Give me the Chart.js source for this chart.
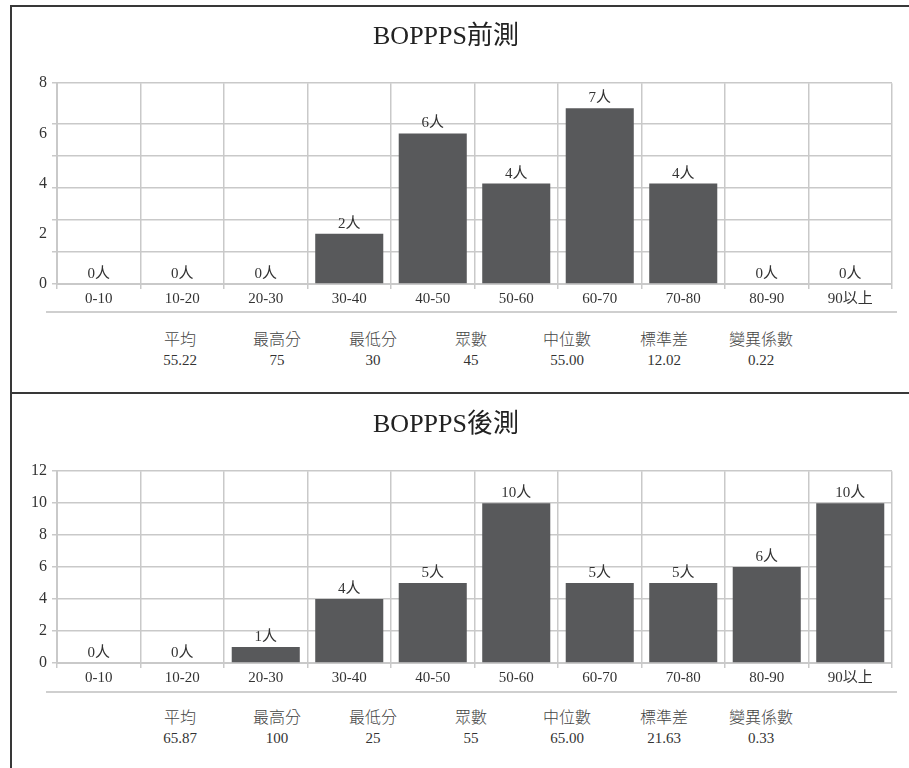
<!DOCTYPE html>
<html>
<head>
<meta charset="utf-8">
<script src="https://cdn.jsdelivr.net/npm/chart.js@4.4.1/dist/chart.umd.min.js"></script>
<style>
  body { margin: 0; width: 909px; height: 768px; overflow: hidden; background: #fff; position: relative;
         font-family: 'Liberation Serif', 'Noto Sans CJK TC', serif; color: #333; }
  .panel { position: absolute; left: 10px; width: 920px; border: 2px solid #383838; box-sizing: border-box; }
  .chart-box { position: absolute; left: 0; width: 909px; }
  .rule { position: absolute; left: 46px; width: 851px; height: 2px; background: #cfcfcf; }
  .stat { position: absolute; width: 90px; margin-left: -45px; text-align: center; line-height: 20px; }
  .stat .name { font-size: 16px; font-weight: 300; color: #444; }
  .stat .val { font-size: 15px; }
</style>
</head>
<body>
<div class="panel" style="top:5px;height:389px;"></div>
<div class="panel" style="top:392px;height:400px;"></div>

<div class="chart-box" style="top:0;height:312px;"><canvas id="preChart"></canvas></div>
<div class="rule" style="top:311px;"></div>
<div id="preStats"></div>

<div class="chart-box" style="top:392px;height:299px;"><canvas id="postChart"></canvas></div>
<div class="rule" style="top:691px;"></div>
<div id="postStats"></div>

<script>
// Score bands
const categories = ['0-10', '10-20', '20-30', '30-40', '40-50', '50-60', '60-70', '70-80', '80-90', '90以上'];

// Number of students per band
const preCounts = [0, 0, 0, 2, 6, 4, 7, 4, 0, 0];
const postCounts = [0, 0, 1, 4, 5, 10, 5, 5, 6, 10];

// Axis labels and grid lines (the pre-test chart has its grid out of step with its labels)
const preAxisLabels = [0, 2, 4, 6, 8];
const preGridLines = [0, 1.28, 2.56, 3.84, 5.12, 6.4, 8];
const postAxisLabels = [0, 2, 4, 6, 8, 10, 12];
const postGridLines = [0, 2, 4, 6, 8, 10, 12];

// Summary statistics under each chart
const statNames = ['平均', '最高分', '最低分', '眾數', '中位數', '標準差', '變異係數'];
const preStats = ['55.22', '75', '30', '45', '55.00', '12.02', '0.22'];
const postStats = ['65.87', '100', '25', '55', '65.00', '21.63', '0.33'];

const FONT = "'Liberation Serif', 'Noto Sans CJK TC', serif";
const GRID = '#c9c9c9';
const BAR = '#58595b';

// Draw "n人" above every bar
const barLabels = {
  id: 'barLabels',
  afterDatasetsDraw(chart) {
    const ctx = chart.ctx;
    const meta = chart.getDatasetMeta(0);
    const values = chart.data.datasets[0].data;
    ctx.save();
    ctx.font = '15px ' + FONT;
    ctx.fillStyle = '#333';
    ctx.textAlign = 'center';
    ctx.textBaseline = 'alphabetic';
    meta.data.forEach((bar, i) => {
      ctx.fillText(values[i] + '人', bar.x, bar.y - 6);
    });
    ctx.restore();
  }
};

function buildChart(canvasId, title, counts, axisLabels, gridLines, titlePadding) {
  const allTicks = Array.from(new Set(axisLabels.concat(gridLines))).sort((a, b) => a - b);
  const maxValue = Math.max(...allTicks);

  return new Chart(document.getElementById(canvasId), {
    type: 'bar',
    data: {
      labels: categories,
      datasets: [{
        data: counts,
        backgroundColor: BAR,
        borderWidth: 0,
        categoryPercentage: 1,
        barPercentage: 0.815
      }]
    },
    plugins: [barLabels],
    options: {
      responsive: true,
      maintainAspectRatio: false,
      animation: false,
      layout: { padding: { left: 0, right: 17, top: 0, bottom: 0 } },
      plugins: {
        legend: { display: false },
        tooltip: { enabled: false },
        title: {
          display: true,
          text: title,
          color: '#222',
          font: { family: FONT, size: 26, weight: 'normal' },
          padding: titlePadding
        }
      },
      scales: {
        x: {
          grid: {
            offset: true,
            color: GRID,
            lineWidth: 1.5,
            tickLength: 5,
            tickColor: GRID
          },
          border: { color: GRID, width: 2 },
          ticks: {
            color: '#333',
            padding: 1,
            autoSkip: false,
            maxRotation: 0,
            font: { family: FONT, size: 15 }
          },
          afterFit: (scale) => { scale.height = 28; }
        },
        y: {
          min: 0,
          max: maxValue,
          afterBuildTicks: (scale) => {
            scale.ticks = allTicks.map(v => ({ value: v }));
          },
          grid: {
            color: (c) => gridLines.includes(c.tick.value) ? GRID : 'rgba(0,0,0,0)',
            tickColor: (c) => gridLines.includes(c.tick.value) ? GRID : 'rgba(0,0,0,0)',
            lineWidth: 1.5,
            tickLength: 5
          },
          border: { color: GRID, width: 2 },
          ticks: {
            color: '#333',
            padding: 5,
            autoSkip: false,
            font: { family: FONT, size: 16 },
            callback: (value) => axisLabels.includes(value) ? value : ''
          },
          afterFit: (scale) => { scale.width = 57; }
        }
      }
    }
  });
}

function buildStats(containerId, values, top) {
  const xs = [180, 277, 373, 471, 567, 664, 761];
  const box = document.getElementById(containerId);
  statNames.forEach((name, i) => {
    const div = document.createElement('div');
    div.className = 'stat';
    div.style.left = xs[i] + 'px';
    div.style.top = top + 'px';
    div.innerHTML = `<div class="name">${name}</div><div class="val">${values[i]}</div>`;
    box.appendChild(div);
  });
}

buildChart('preChart', 'BOPPPS前測', preCounts, preAxisLabels, preGridLines, { top: 22, bottom: 30 });
buildChart('postChart', 'BOPPPS後測', postCounts, postAxisLabels, postGridLines, { top: 18, bottom: 30 });
buildStats('preStats', preStats, 330);
buildStats('postStats', postStats, 708);
</script>
</body>
</html>
